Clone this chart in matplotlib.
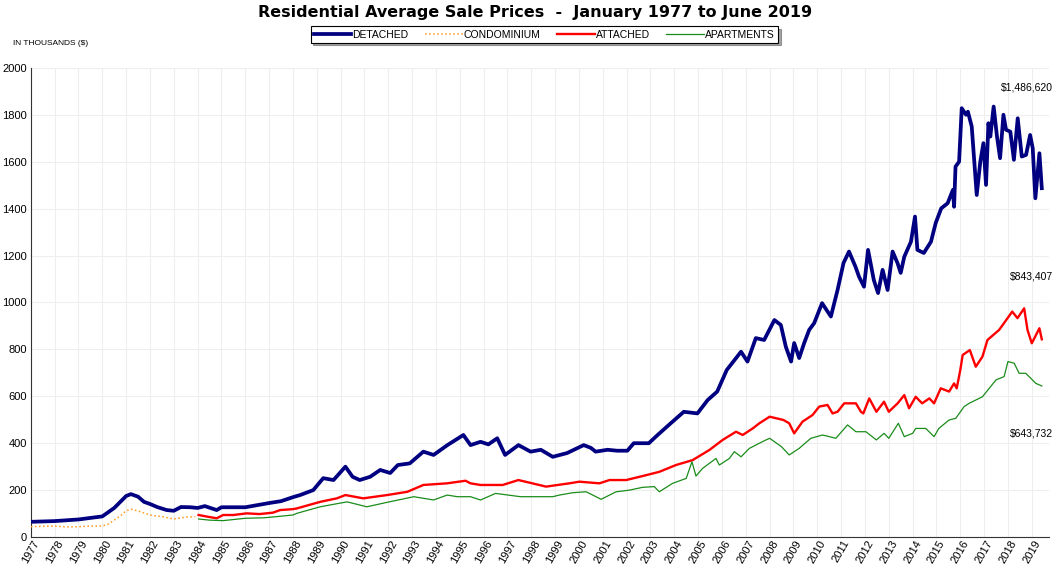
import numpy as np
import matplotlib.pyplot as plt

plt.rcParams['font.family'] = ['Liberation Sans', 'DejaVu Sans']

# values, in thousands of dollars, time in decimal years
det_t = [1977.0, 1978.0, 1979.0, 1980.0, 1980.5, 1981.0, 1981.2, 1981.5, 1981.75, 1982.0,
         1982.3, 1982.7, 1983.0, 1983.3, 1983.7, 1984.0, 1984.3, 1984.8, 1985.0, 1986.0,
         1986.5, 1987.0, 1987.5, 1988.0, 1988.3, 1988.85, 1989.27, 1989.7, 1990.2, 1990.5,
         1990.8, 1991.24, 1991.66, 1992.08, 1992.4, 1992.9, 1993.47, 1993.9, 1994.48, 1995.15,
         1995.45, 1995.87, 1996.2, 1996.57, 1996.9, 1997.46, 1997.97, 1998.4, 1998.9, 1999.5,
         2000.2, 2000.5, 2000.7, 2001.2, 2001.6, 2002.03, 2002.3, 2002.93, 2003.3, 2003.85,
         2004.4, 2004.97, 2005.4, 2005.8, 2006.2, 2006.8, 2007.07, 2007.42, 2007.77, 2008.2,
         2008.47, 2008.68, 2008.9, 2009.03, 2009.24, 2009.45, 2009.66, 2009.87, 2010.2, 2010.57,
         2010.85, 2011.1, 2011.33, 2011.6, 2011.75, 2011.96, 2012.13, 2012.37, 2012.55, 2012.74,
         2012.95, 2013.16, 2013.37, 2013.5, 2013.65, 2013.93, 2014.1, 2014.2, 2014.47, 2014.77,
         2014.97, 2015.2, 2015.47, 2015.69, 2015.74, 2015.8, 2015.95, 2016.06, 2016.24, 2016.32,
         2016.48, 2016.58, 2016.69, 2016.84, 2016.97, 2017.08, 2017.18, 2017.26, 2017.4, 2017.54,
         2017.67, 2017.81, 2017.92, 2018.1, 2018.25, 2018.41, 2018.58, 2018.76, 2018.93, 2019.04,
         2019.15, 2019.32, 2019.42]
det_v = [65, 68, 75, 88, 124, 175, 183, 172, 150, 141,
         128, 115, 112, 128, 127, 124, 132, 115, 127, 127,
         136, 145, 153, 170, 179, 200, 251, 243, 300, 257,
         243, 257, 286, 273, 307, 314, 364, 350, 392, 435,
         392, 406, 395, 421, 350, 392, 364, 372, 342, 358,
         392, 380, 364, 372, 368, 368, 400, 400, 435, 485,
         534, 527, 584, 620, 712, 790, 748, 848, 840, 925,
         904, 811, 748, 827, 763, 827, 883, 912, 997, 940,
         1053, 1168, 1217, 1153, 1110, 1067, 1224, 1096, 1040, 1139,
         1053, 1217, 1167, 1126, 1195, 1259, 1366, 1224, 1211, 1259,
         1339, 1401, 1423, 1480, 1408, 1579, 1600, 1828, 1800, 1813,
         1750, 1608, 1458, 1600, 1679, 1501, 1764, 1707, 1835, 1707,
         1615, 1800, 1736, 1728, 1608, 1785, 1622, 1629, 1714, 1657,
         1444, 1636, 1487]

con_t = [1977.0, 1977.5, 1978.0, 1978.5, 1979.0, 1979.5, 1980.0, 1980.25, 1980.5, 1980.8,
         1981.0, 1981.2, 1981.6, 1982.0, 1982.5, 1983.0, 1983.5, 1983.9]
con_v = [44, 46, 47, 43, 44, 47, 47, 55, 72, 94,
         112, 119, 108, 94, 87, 77, 85, 87]

att_t = [1984.04, 1984.4, 1984.8, 1985.07, 1985.5, 1986.06, 1986.6, 1987.16, 1987.46, 1988.0,
         1988.16, 1989.14, 1989.84, 1990.2, 1990.95, 1991.95, 1992.8, 1993.47, 1994.47, 1995.24,
         1995.45, 1995.87, 1996.8, 1997.46, 1998.62, 1999.6, 2000.02, 2000.86, 2001.28, 2001.98,
         2002.67, 2003.37, 2004.07, 2004.77, 2005.47, 2006.03, 2006.59, 2006.87, 2007.29, 2007.57,
         2008.0, 2008.58, 2008.82, 2009.03, 2009.38, 2009.8, 2010.08, 2010.43, 2010.64, 2010.85,
         2011.13, 2011.62, 2011.83, 2011.93, 2012.18, 2012.48, 2012.8, 2013.0, 2013.37, 2013.65,
         2013.85, 2014.13, 2014.4, 2014.7, 2014.9, 2015.18, 2015.53, 2015.74, 2015.85, 2016.0,
         2016.1, 2016.4, 2016.65, 2016.93, 2017.14, 2017.63, 2018.18, 2018.4, 2018.68, 2018.82,
         2019.0, 2019.32, 2019.42]
att_v = [94, 87, 80, 94, 94, 101, 98, 104, 115, 119,
         122, 150, 165, 179, 165, 179, 193, 222, 229, 240,
         229, 222, 222, 243, 215, 229, 236, 229, 243, 243,
         260, 278, 307, 328, 371, 414, 449, 435, 463, 485,
         513, 499, 485, 442, 492, 520, 556, 563, 527, 534,
         570, 570, 534, 527, 591, 534, 577, 534, 570, 605,
         549, 598, 570, 591, 570, 634, 620, 655, 634, 712,
         776, 797, 726, 769, 840, 883, 961, 933, 975, 883,
         826, 890, 843]

apt_t = [1984.04, 1984.5, 1985.07, 1986.0, 1986.75, 1987.0, 1988.0, 1988.16, 1989.14, 1990.27,
         1991.1, 1991.95, 1993.07, 1993.9, 1994.47, 1994.9, 1995.45, 1995.87, 1996.5, 1997.55,
         1998.9, 1999.18, 1999.74, 2000.3, 2000.93, 2001.56, 2002.12, 2002.67, 2003.16, 2003.37,
         2003.93, 2004.5, 2004.74, 2004.91, 2005.19, 2005.75, 2005.89, 2006.31, 2006.52, 2006.8,
         2007.15, 2007.57, 2007.85, 2008.0, 2008.5, 2008.82, 2009.24, 2009.73, 2010.22, 2010.78,
         2011.27, 2011.62, 2012.04, 2012.48, 2012.8, 2013.0, 2013.4, 2013.65, 2014.0, 2014.13,
         2014.55, 2014.9, 2015.1, 2015.53, 2015.81, 2016.16, 2016.37, 2016.93, 2017.5, 2017.84,
         2018.0, 2018.26, 2018.47, 2018.75, 2019.17, 2019.42]
apt_v = [77, 72, 70, 80, 82, 84, 94, 101, 129, 150,
         129, 148, 172, 158, 179, 172, 172, 158, 186, 172,
         172, 179, 189, 193, 161, 193, 200, 212, 215, 193,
         229, 250, 321, 260, 293, 335, 307, 335, 364, 342,
         378, 400, 414, 421, 385, 350, 378, 421, 435, 421,
         478, 449, 449, 414, 442, 421, 485, 428, 442, 463,
         463, 428, 463, 499, 506, 556, 570, 598, 670, 684,
         748, 741, 698, 698, 655, 644]

years = list(range(1977, 2020))
final_labels = ['$1,486,620', '$843,407', '$643,732']

fig = plt.figure(figsize=(10.63, 5.75), dpi=100)
ax = fig.add_axes([0.029, 0.066, 0.958, 0.816])

ax.plot(det_t, det_v, '-', color='#000080', lw=2.7, label='DETACHED', zorder=4)
ax.plot(con_t, con_v, ':', color='#ff9a1a', lw=1.1, label='CONDOMINIUM', zorder=3)
ax.plot(att_t, att_v, '-', color='#ff0000', lw=1.7, label='ATTACHED', zorder=3)
ax.plot(apt_t, apt_v, '-', color='#1a8c1a', lw=0.9, label='APARTMENTS', zorder=3)

ax.set_xlim(1977, 2019.73)
ax.set_ylim(0, 2000)
ax.set_yticks(range(0, 2001, 200))
ax.set_xticks(years)
ax.set_xticklabels([str(y) for y in years], rotation=60, ha='center', fontsize=8)
ax.tick_params(axis='y', labelsize=8, length=0, pad=3)
ax.tick_params(axis='x', length=0, pad=1)
ax.grid(True, color='#eeeeee', lw=0.8)
ax.set_axisbelow(True)
for s in ['top', 'right']:
    ax.spines[s].set_visible(False)
ax.spines['left'].set_color('#333333')
ax.spines['bottom'].set_color('#333333')

ax.text(2019.9, 1915, final_labels[0], ha='right', va='center', fontsize=7.5)
ax.text(2019.9, 1110, final_labels[1], ha='right', va='center', fontsize=7.5)
ax.text(2019.9, 440, final_labels[2], ha='right', va='center', fontsize=7.5)

fig.text(0.503, 0.978, 'Residential Average Sale Prices  -  January 1977 to June 2019',
         ha='center', va='center', fontsize=11.5, fontweight='bold', family='DejaVu Sans')
fig.text(0.012, 0.925, 'IN THOUSANDS ($)', ha='left', va='center', fontsize=6)

leg = fig.legend(loc='center', bbox_to_anchor=(0.512, 0.94), ncol=4, fontsize=7.5,
                 frameon=True, fancybox=False, shadow=True, handlelength=3.6,
                 handletextpad=0.1, columnspacing=1.6, borderpad=0.3)
leg.get_frame().set_edgecolor('black')
leg.get_frame().set_linewidth(0.8)

plt.savefig('out.png', dpi=100)
